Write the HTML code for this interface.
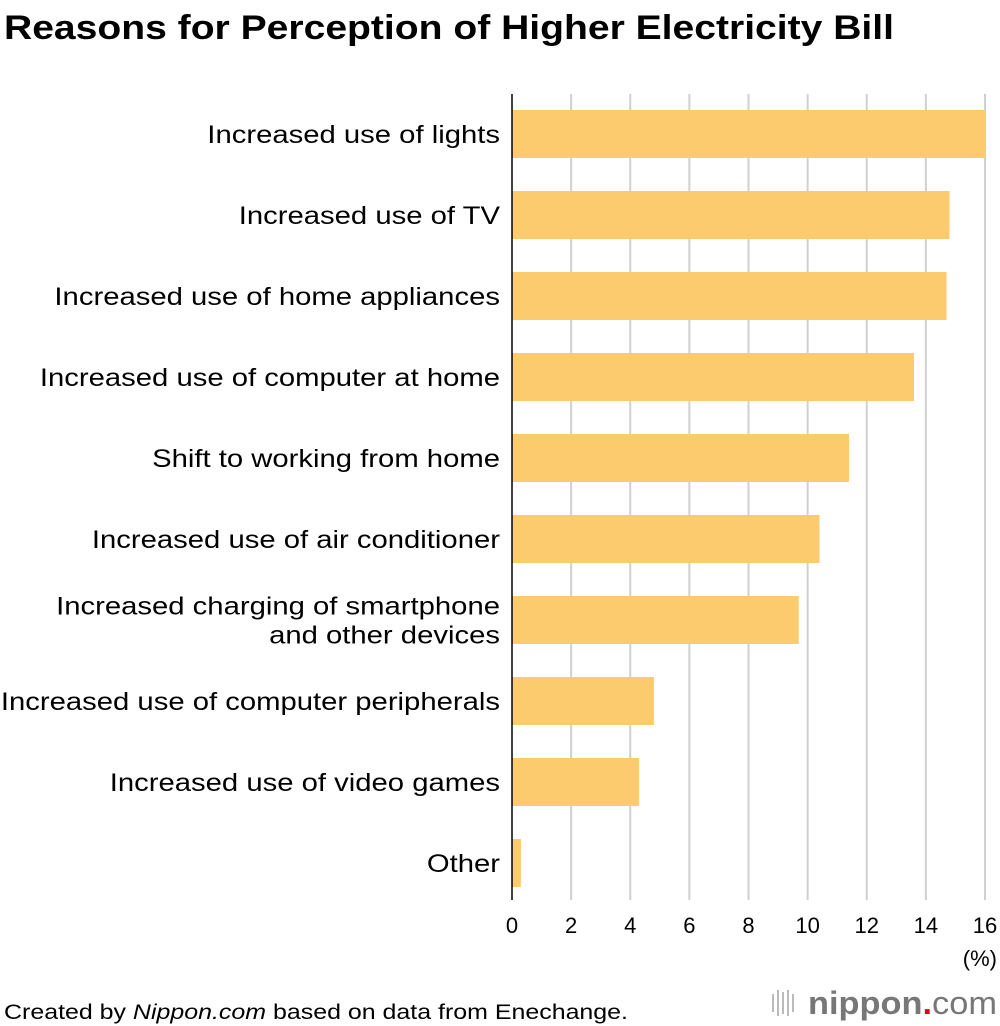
<!DOCTYPE html>
<html><head><meta charset="utf-8"><style>
body{margin:0;background:#fff;font-family:"Liberation Sans",sans-serif;}
#wrap{position:relative;width:1000px;height:1026px;overflow:hidden;}
</style></head><body>
<div id="wrap">
<svg id="chart" width="1000" height="1026" xmlns="http://www.w3.org/2000/svg">
<text x="4" y="39" font-size="34" font-weight="bold" fill="#000" textLength="890" lengthAdjust="spacingAndGlyphs">Reasons for Perception of Higher Electricity Bill</text>
<g id="grid"></g><g id="bars"></g><g id="labels"></g><g id="ticks"></g>
<line x1="512" y1="94" x2="512" y2="900" stroke="#000" stroke-width="1.5"/>
<text x="997" y="966" font-size="22" text-anchor="end" fill="#000">(%)</text>
<text x="4" y="1019" font-size="21" fill="#000" textLength="624" lengthAdjust="spacingAndGlyphs">Created by <tspan font-style="italic">Nippon.com</tspan> based on data from Enechange.</text>
<g>
<rect x="772" y="994" width="2" height="18" fill="#bbb"/><rect x="777" y="990" width="2" height="26" fill="#bbb"/><rect x="782" y="992" width="2" height="22" fill="#bbb"/><rect x="787" y="990" width="2" height="26" fill="#bbb"/><rect x="792" y="994" width="2" height="18" fill="#bbb"/>
<text x="808" y="1014" font-size="32" font-weight="bold" fill="#777" textLength="189" lengthAdjust="spacingAndGlyphs">nippon<tspan fill="#e60012">.</tspan><tspan font-weight="normal">com</tspan></text>
</g>
</svg>
<script>
const categories=[["Increased use of lights"],["Increased use of TV"],["Increased use of home appliances"],["Increased use of computer at home"],["Shift to working from home"],["Increased use of air conditioner"],["Increased charging of smartphone","and other devices"],["Increased use of computer peripherals"],["Increased use of video games"],["Other"]];
const values=[16.0,14.8,14.7,13.6,11.4,10.4,9.7,4.8,4.3,0.3];
const tickValues=[0,2,4,6,8,10,12,14,16];
const NS="http://www.w3.org/2000/svg";
const x0=512,x1=985,xmax=16;
function xs(v){return x0+(x1-x0)*v/xmax;}
function yc(i){return 134+i*81;}
function mk(t,a,p){const e=document.createElementNS(NS,t);for(const k in a)e.setAttribute(k,a[k]);p.appendChild(e);return e;}
const grid=document.getElementById('grid'),bars=document.getElementById('bars'),labels=document.getElementById('labels'),ticks=document.getElementById('ticks');
tickValues.forEach(v=>{
 if(v>0){const g=mk('line',{x1:xs(v),x2:xs(v),y1:94,y2:900,stroke:'#d0d0d0','stroke-width':2},grid);
 
 }
 const t=mk('text',{x:xs(v),y:933,'font-size':22,'text-anchor':'middle',fill:'#000'},ticks);t.textContent=v;
 
 
});
values.forEach((v,i)=>{
 const r=mk('rect',{x:x0,y:yc(i)-24,width:xs(v)-x0,height:48,fill:'#fccb6e'},bars);
 
 
 const lines=categories[i];
 lines.forEach((s,j)=>{
  const y=yc(i)+9+(j-(lines.length-1)/2)*29;
  const t=mk('text',{x:500,y:y,'font-size':25,'text-anchor':'end',fill:'#000'},labels);t.textContent=s;
  
  
  const w=t.getComputedTextLength();
  t.setAttribute('textLength',w*1.17);
  t.setAttribute('lengthAdjust','spacingAndGlyphs');
 });
});
</script>
</div>
</body></html>
